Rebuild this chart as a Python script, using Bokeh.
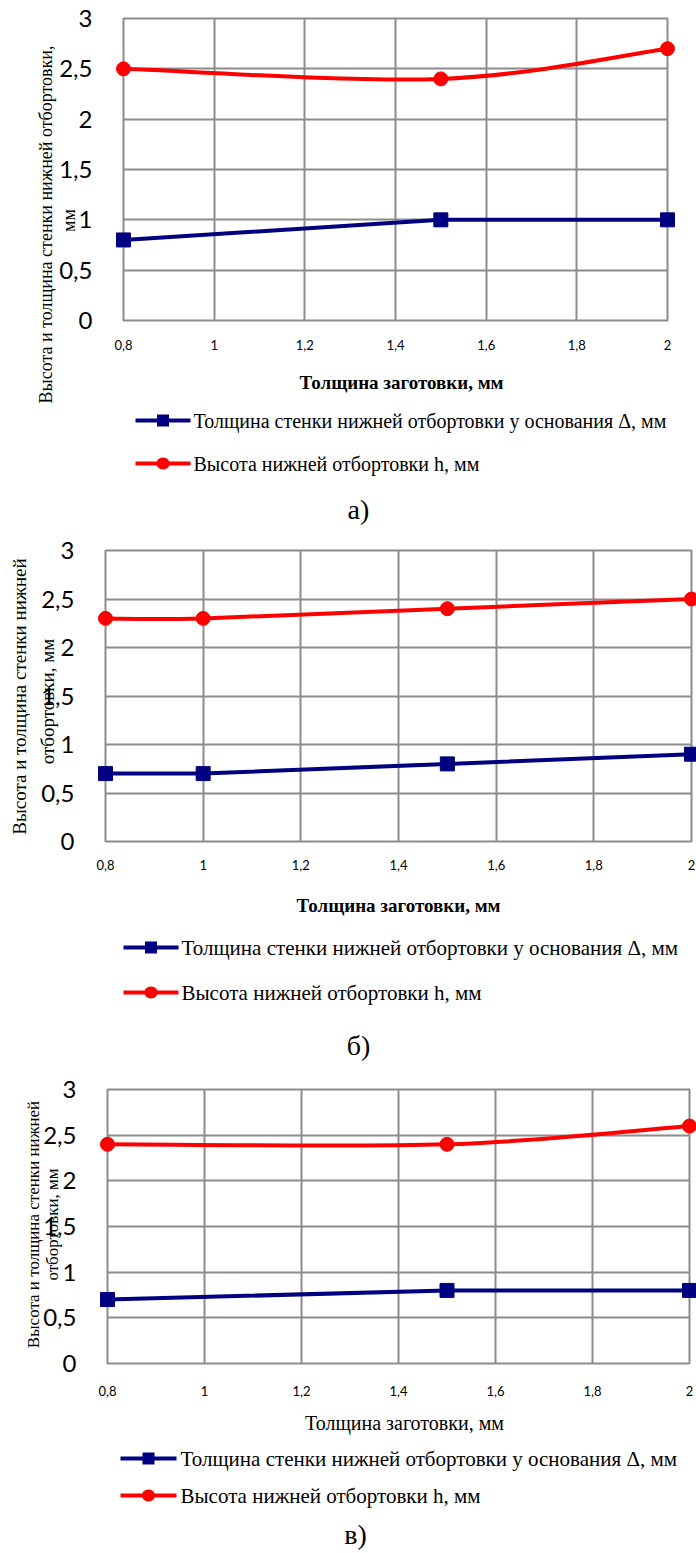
import numpy as np
from bokeh.plotting import figure
from bokeh.models import FixedTicker, Range1d
from bokeh.core.properties import value
from bokeh.embed import file_html
from bokeh.resources import INLINE

# ---------------- data ----------------
x_a = [0.8, 1.5, 2.0]
wall_a = [0.8, 1.0, 1.0]
height_a = [2.5, 2.4, 2.7]

x_b = [0.8, 1.0, 1.5, 2.0]
wall_b = [0.7, 0.7, 0.8, 0.9]
height_b = [2.3, 2.3, 2.4, 2.5]

x_c = [0.8, 1.5, 2.0]
wall_c = [0.7, 0.8, 0.8]
height_c = [2.4, 2.4, 2.6]

x_ticks = [0.8, 1.0, 1.2, 1.4, 1.6, 1.8, 2.0]
x_tick_labels = ["0,8", "1", "1,2", "1,4", "1,6", "1,8", "2"]
y_ticks = [0, 0.5, 1, 1.5, 2, 2.5, 3]
y_tick_labels = ["0", "0,5", "1", "1,5", "2", "2,5", "3"]

label_wall = "Толщина стенки нижней отбортовки у основания Δ, мм"
label_height = "Высота нижней отбортовки h, мм"
x_title = "Толщина заготовки, мм"
y_title_a = ["Высота и толщина стенки нижней отбортовки,", "мм"]
y_title_b = ["Высота и толщина стенки нижней", "отбортовки, мм"]
captions = ["а)", "б)", "в)"]

BLUE = "#000080"
RED = "#FF0000"
GRID = "#8C8C8C"
SERIF = "Liberation Serif"
SANS = "Lato"
W = 696


def smooth_bezier(xs, ys):
    """Control points of a smoothed (Catmull-Rom style) curve through the data points."""
    n = len(xs)
    out = dict(x0=[], y0=[], x1=[], y1=[], cx0=[], cy0=[], cx1=[], cy1=[])
    for i in range(n - 1):
        i0, i3 = max(i - 1, 0), min(i + 2, n - 1)
        out["x0"].append(xs[i]); out["y0"].append(ys[i])
        out["x1"].append(xs[i + 1]); out["y1"].append(ys[i + 1])
        out["cx0"].append(xs[i] + (xs[i + 1] - xs[i0]) / 6)
        out["cy0"].append(ys[i] + (ys[i + 1] - ys[i0]) / 6)
        out["cx1"].append(xs[i + 1] - (xs[i3] - xs[i]) / 6)
        out["cy1"].append(ys[i + 1] - (ys[i3] - ys[i]) / 6)
    return out


def panel(xs, wall, hgt, top, H, L, R, T, B, cfg):
    # T, B: page y of frame top/bottom; top: page y of the figure's top
    p = figure(width=W, height=H, output_backend="svg", toolbar_location=None,
               x_range=Range1d(0.8, 2.0), y_range=Range1d(0, 3),
               min_border_left=L, min_border_right=W - R,
               min_border_top=T - top, min_border_bottom=top + H - B)
    p.background_fill_color = "white"
    p.border_fill_color = "white"
    p.outline_line_color = GRID
    p.outline_line_width = 2

    for ax in (p.xaxis[0], p.yaxis[0]):
        ax.axis_line_color = None
        ax.major_tick_line_color = None
        ax.minor_tick_line_color = None
        ax.major_label_text_font = SANS
        ax.major_label_text_color = "black"
    p.xaxis.ticker = FixedTicker(ticks=x_ticks)
    p.xaxis.major_label_overrides = dict(zip(x_ticks, x_tick_labels))
    p.xaxis.major_label_text_font_size = "13px"
    p.xaxis.major_label_standoff = cfg["xstand"]
    p.yaxis.ticker = FixedTicker(ticks=y_ticks)
    p.yaxis.major_label_overrides = dict(zip(y_ticks, y_tick_labels))
    p.yaxis.major_label_text_font_size = "24px"
    p.yaxis.major_label_standoff = 25

    p.xgrid.grid_line_color = GRID
    p.xgrid.grid_line_width = 2
    p.ygrid.grid_line_color = GRID
    p.ygrid.grid_line_width = 2

    # series
    p.line(xs, wall, line_color=BLUE, line_width=4)
    p.scatter(xs, wall, marker="square", size=14, fill_color=BLUE,
              line_color=BLUE, level="overlay")
    bz = smooth_bezier(xs, hgt)
    p.bezier(x0="x0", y0="y0", x1="x1", y1="y1", cx0="cx0", cy0="cy0",
             cx1="cx1", cy1="cy1", source=bz, line_color=RED, line_width=4)
    p.scatter(xs, hgt, marker="circle", size=14, fill_color=RED,
              line_color=RED, level="overlay")

    # page pixel -> data helpers (for the texts around the frame)
    def dx(px):
        return 0.8 + (px - L) / (R - L) * 1.2

    def dy(py):
        return 3.0 * (B - py) / (B - T)

    def txt(px, py, s, size, align="center", style="normal", angle=0.0):
        p.text(x=[dx(px)], y=[dy(py)], text=[s], angle=angle,
               text_font=value(SERIF), text_font_size=size,
               text_font_style=style, text_align=align,
               text_baseline="middle", text_color="black", level="overlay")

    # legend (drawn by hand below the plot; markers drawn as thick capped strokes)
    gx0, gx1, tx = cfg["leg_x"]
    mx = (gx0 + gx1) / 2
    for (py, color, cap, half, s) in [(cfg["leg_y"][0], BLUE, "butt", 6.0, label_wall),
                                      (cfg["leg_y"][1], RED, "round", 0.5, label_height)]:
        p.line([dx(gx0), dx(gx1)], [dy(py), dy(py)], line_color=color,
               line_width=4, level="overlay")
        p.line([dx(mx - half), dx(mx + half)], [dy(py), dy(py)], line_color=color,
               line_width=12, line_cap=cap, level="overlay")
        txt(tx, py, s, cfg["leg_fs"], align="left")

    # axis titles
    txt(cfg["xt"][0], cfg["xt"][1], x_title, cfg["xt_fs"], style=cfg["xt_style"])
    for (px, py, s) in cfg["yt"]:
        txt(px, py, s, cfg["yt_fs"], angle=np.pi / 2)
    # caption
    txt(cfg["cap"][0], cfg["cap"][1], cfg["cap"][2], "28px")
    return p


pa = panel(x_a, wall_a, height_a, 0, 530, 123, 667, 18, 320, dict(
    xstand=13, leg_x=(135, 190, 193), leg_y=(420, 463), leg_fs="20px",
    xt=(401, 382), xt_fs="19px", xt_style="bold",
    yt=[(45, 224, y_title_a[0]), (68, 220, y_title_a[1])], yt_fs="18px",
    cap=(358, 509, captions[0])))

pb = panel(x_b, wall_b, height_b, 530, 538, 105, 691, 550, 841, dict(
    xstand=12, leg_x=(123, 178, 181), leg_y=(947, 992), leg_fs="21px",
    xt=(398, 905), xt_fs="19px", xt_style="bold",
    yt=[(19, 696, y_title_b[0]), (47, 701, y_title_b[1])], yt_fs="19px",
    cap=(358, 1045, captions[1])))

pc = panel(x_c, wall_c, height_c, 1068, 485, 107, 689, 1089, 1363, dict(
    xstand=16, leg_x=(120, 176, 180), leg_y=(1458, 1495), leg_fs="21px",
    xt=(404, 1422), xt_fs="20px", xt_style="normal",
    yt=[(33, 1224, y_title_b[0]), (52, 1224, y_title_b[1])], yt_fs="17px",
    cap=(355, 1534, captions[2])))

open("out.html", "w").write(file_html([pa, pb, pc], INLINE))
